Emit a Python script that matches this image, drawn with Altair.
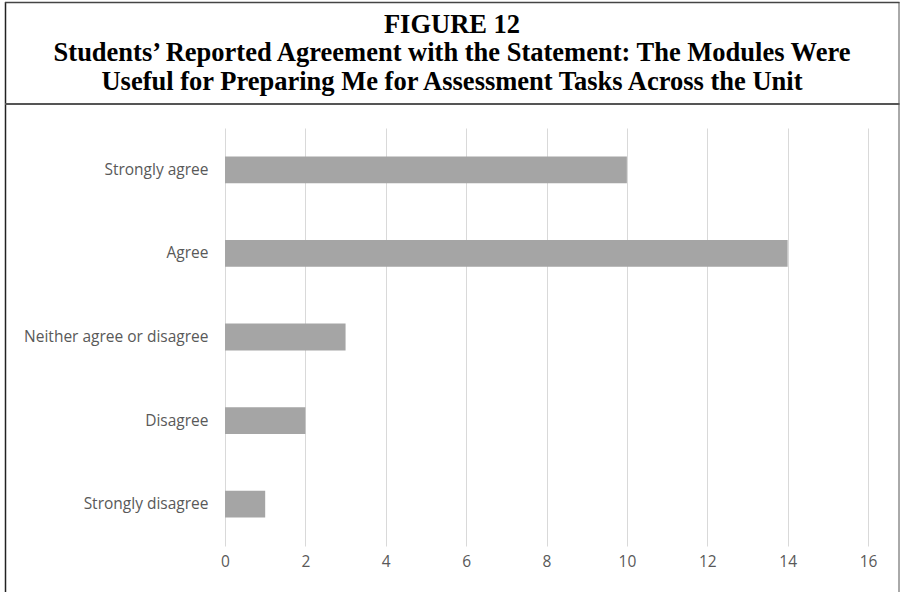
import altair as alt
import pandas as pd

categories = ["Strongly agree", "Agree", "Neither agree or disagree", "Disagree", "Strongly disagree"]
counts = [10, 14, 3, 2, 1]
x_ticks = [0, 2, 4, 6, 8, 10, 12, 14, 16]
title_lines = [
    "FIGURE 12",
    "Students\u2019 Reported Agreement with the Statement: The Modules Were",
    "Useful for Preparing Me for Assessment Tasks Across the Unit",
]

df = pd.DataFrame({"category": categories, "count": counts})

label_font = "Open Sans"
label_size = 15.5

bars = alt.Chart(df).mark_bar(color="#a5a5a5").encode(
    x=alt.X("count:Q", scale=alt.Scale(domain=[0, 16], nice=False),
            axis=alt.Axis(values=x_ticks, title=None, domain=False, ticks=False,
                          grid=True, gridColor="#d9d9d9", gridWidth=1,
                          labelFont=label_font, labelFontSize=label_size, labelColor="#595959",
                          labelPadding=8, labelFlush=False)),
    y=alt.Y("category:N", sort=categories,
            scale=alt.Scale(paddingInner=0.68, paddingOuter=0.34),
            axis=alt.Axis(title=None, domain=False, ticks=False, grid=False,
                          labelFont=label_font, labelFontSize=label_size, labelColor="#595959",
                          labelPadding=17, labelLimit=400)),
)

frame_df = pd.DataFrame({"k": [0]})
# decorative frame: outer box sides and separator under the title
left_border = alt.Chart(frame_df).mark_rule(color="#222222", strokeWidth=1.5).encode(
    x=alt.value(-219.5), y=alt.value(-126), y2=alt.value(470))
right_border = alt.Chart(frame_df).mark_rule(color="#555555", strokeWidth=1).encode(
    x=alt.value(674), y=alt.value(-126), y2=alt.value(470))
top_border = alt.Chart(frame_df).mark_rule(color="#444444", strokeWidth=1.5).encode(
    x=alt.value(-220), x2=alt.value(674.5), y=alt.value(-125.5))
separator = alt.Chart(frame_df).mark_rule(color="#555555", strokeWidth=2).encode(
    x=alt.value(-220), x2=alt.value(674.5), y=alt.value(-24))

title_layers = []
for line, ypos in zip(title_lines, [-95, -67, -38]):
    title_layers.append(
        alt.Chart(frame_df).mark_text(
            text=line, font="Liberation Serif", fontSize=26.5, fontWeight="bold",
            color="#000000", align="center", baseline="alphabetic",
        ).encode(x=alt.value(227), y=alt.value(ypos))
    )

chart = alt.layer(bars, left_border, right_border, top_border, separator, *title_layers).properties(
    width=643,
    height=418,
    padding={"left": 225, "top": 128, "right": 32, "bottom": 46},
    autosize=alt.AutoSizeParams(type="none"),
    background="white",
).configure_view(stroke="transparent", strokeWidth=0)

chart.save("out.html", embed_options={"renderer": "svg", "actions": False})
